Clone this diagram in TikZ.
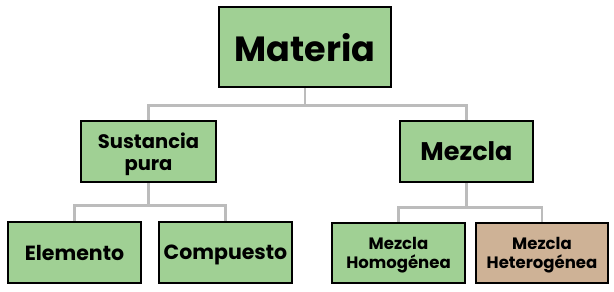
\documentclass[tikz,border=0pt]{standalone}
\usepackage{fontspec}
\setmainfont{Poppins}
\usetikzlibrary{positioning}

\definecolor{boxgreen}{RGB}{160,208,148}
\definecolor{boxtan}{RGB}{206,178,150}
\definecolor{linkgray}{RGB}{188,188,188}

\tikzset{
  box/.style={draw=black,line width=2.6pt,fill=boxgreen,align=center,
    inner sep=0pt,font=\bfseries,text depth=0pt},
  link/.style={draw=linkgray,line width=2.4pt}
}

\begin{document}
\begin{tikzpicture}[x=1pt,y=-1pt]
\useasboundingbox (0,0) rectangle (614,292);

% -- top
\node[box,minimum width=172pt,minimum height=80pt,font=\bfseries\fontsize{35}{38}\selectfont] (materia) at (305,47) {Materia};

% -- second row
\node[box,minimum width=135pt,minimum height=61pt,font=\bfseries\fontsize{19.5}{22}\selectfont] (sustancia) at (148.5,151.5) {Sustancia\\pura};
\node[box,minimum width=133pt,minimum height=61pt,font=\bfseries\fontsize{25.5}{28}\selectfont] (mezcla) at (466.5,151.5) {Mezcla};

% -- third row
\node[box,minimum width=133pt,minimum height=61pt,font=\bfseries\fontsize{20.5}{22}\selectfont] (elemento) at (74.5,252.5) {Elemento};
\node[box,minimum width=133pt,minimum height=61pt,font=\bfseries\fontsize{20.5}{22}\selectfont] (compuesto) at (225.5,252.5) {Compuesto};
\node[box,minimum width=133pt,minimum height=60pt,font=\bfseries\fontsize{16.5}{18.5}\selectfont] (homog) at (398.5,253) {Mezcla\\Homogénea};
\node[box,fill=boxtan,minimum width=132pt,minimum height=60pt,font=\bfseries\fontsize{16.5}{18.5}\selectfont] (heterog) at (542,253) {Mezcla\\Heterogénea};

% -- connectors
\draw[link] (materia.south) -- ++(0,17) coordinate (m1);
\draw[link] (m1) -| (sustancia.north);
\draw[link] (m1) -| (mezcla.north);

\draw[link] (sustancia.south) -- ++(0,22) coordinate (s1);
\draw[link] (s1) -| (elemento.north);
\draw[link] (s1) -| (compuesto.north);

\draw[link] (mezcla.south) -- ++(0,24) coordinate (z1);
\draw[link] (z1) -| (homog.north);
\draw[link] (z1) -| (heterog.north);
\end{tikzpicture}
\end{document}
